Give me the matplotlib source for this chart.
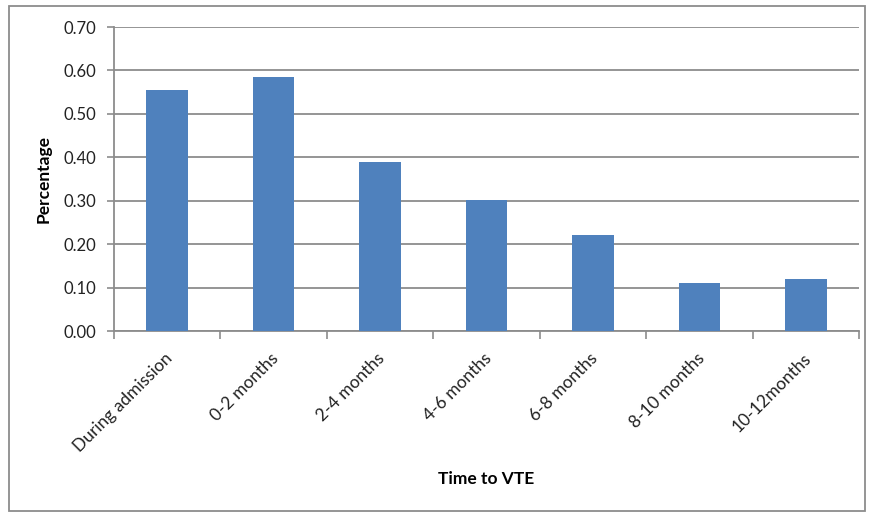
import matplotlib.pyplot as plt
import numpy as np
from matplotlib.patches import Rectangle

# time-to-VTE categories and share of events in each
periods = ["During admission", "0-2 months", "2-4 months", "4-6 months",
           "6-8 months", "8-10 months", "10-12months"]
share = [0.555, 0.585, 0.390, 0.302, 0.220, 0.110, 0.120]
y_ticks = [0.0, 0.1, 0.2, 0.3, 0.4, 0.5, 0.6, 0.7]

plt.rcParams['font.family'] = ['Lato', 'DejaVu Sans']

fig = plt.figure(figsize=(8.7, 5.14), dpi=100)
ax = fig.add_axes([114/870, 1 - 331/514, 745/870, 304/514])

x = np.arange(len(periods))
ax.bar(x, share, width=0.39, color="#4f81bd", zorder=3)

ax.set_xlim(-0.5, len(periods) - 0.5)
ax.set_ylim(0, 0.7)
ax.set_yticks(y_ticks)
ax.set_yticklabels([f"{v:.2f}" for v in y_ticks], fontsize=12, color="#222222")
ax.yaxis.grid(True, color="#8c8c8c", linewidth=1.3, zorder=0)

# category boundaries carry the x tick marks
ax.set_xticks(np.arange(len(periods) + 1) - 0.5)
ax.set_xticklabels([])
ax.tick_params(axis="x", length=6, color="#8c8c8c", width=1.2)
ax.tick_params(axis="y", length=5, color="#8c8c8c", width=1.2, pad=8)
for i, lab in enumerate(periods):
    ax.text(i - 0.03, -0.045, lab, rotation=45, ha="right", va="top",
            rotation_mode="anchor", fontsize=12.5, color="#222222")

for side in ["top", "right"]:
    ax.spines[side].set_visible(False)
for side in ["left", "bottom"]:
    ax.spines[side].set_color("#8c8c8c")
    ax.spines[side].set_linewidth(1.3)

ax.set_ylabel("Percentage", fontsize=12.5, fontweight="bold")
ax.yaxis.set_label_coords(-0.084, 0.5)
fig.text(486/870, 1 - 479/514, "Time to VTE", ha="center", va="center",
         fontsize=12.5, fontweight="bold")

# chart-area frame
fig.patches.append(Rectangle((9/870, 3/514), 856/870, 505/514, transform=fig.transFigure,
                             fill=False, edgecolor="#8c8c8c", linewidth=1.3))

fig.savefig("out.png", dpi=100)
